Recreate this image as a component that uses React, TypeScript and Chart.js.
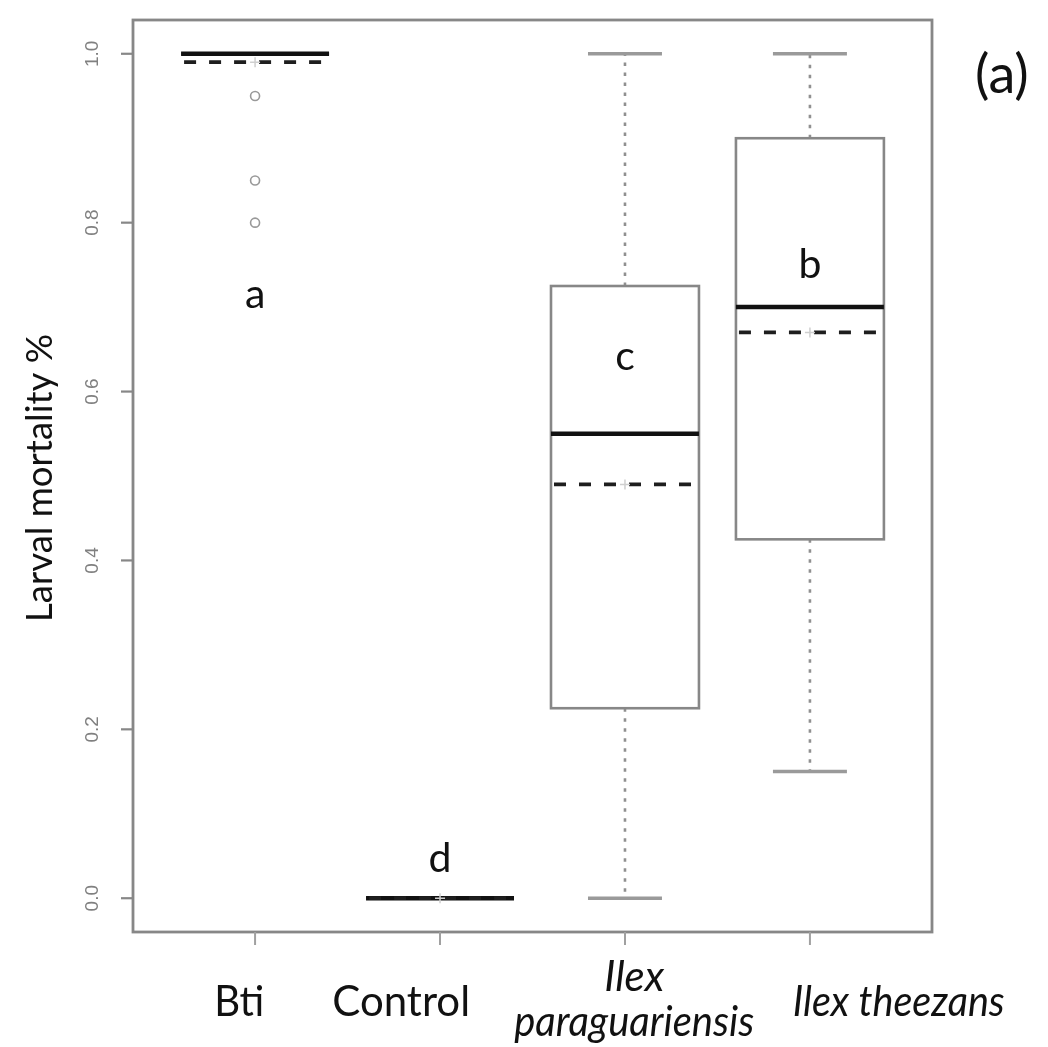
import React, { useEffect, useRef } from 'react';
import { Chart, registerables } from 'chart.js';

Chart.register(...registerables);

// ---- data ----
const categories = ['Bti', 'Control', 'Ilex paraguariensis', 'Ilex theezans'];
const whiskerLow = [1.0, 0.0, 0.0, 0.15];
const q1 = [1.0, 0.0, 0.225, 0.425];
const medians = [1.0, 0.0, 0.55, 0.70];
const q3 = [1.0, 0.0, 0.725, 0.90];
const whiskerHigh = [1.0, 0.0, 1.0, 1.0];
const means = [0.99, 0.0, 0.49, 0.67];
const outlierGroup = [1, 1, 1];
const outlierValues = [0.95, 0.85, 0.80];
const yTicks = [0, 0.2, 0.4, 0.6, 0.8, 1.0];
const yTickLabels = ['0.0', '0.2', '0.4', '0.6', '0.8', '1.0'];
const groupLetters = ['a', 'd', 'c', 'b'];
const letterY = [0.699, 0.031, 0.625, 0.735];
const xLabelLines = [['Bti'], ['Control'], ['Ilex', 'paraguariensis'], ['Ilex theezans']];
const xLabelItalic = [false, false, true, true];
const xLabelCenter = [0.914, 1.79, 3.05, 4.48];
const yTitle = 'Larval mortality %';
const panelTag = '(a)';

const GRAY = '#878787';

const boxPlugin = {
  id: 'rBoxplot',
  beforeDatasetsDraw(chart: any) {
    const { ctx, chartArea, scales } = chart;
    const x = scales.x;
    const y = scales.y;
    ctx.save();
    // frame
    ctx.strokeStyle = GRAY;
    ctx.lineWidth = 2.8;
    ctx.setLineDash([]);
    ctx.strokeRect(chartArea.left, chartArea.top, chartArea.right - chartArea.left, chartArea.bottom - chartArea.top);
    // y ticks + labels
    yTicks.forEach((v, i) => {
      const py = y.getPixelForValue(v);
      ctx.strokeStyle = GRAY;
      ctx.lineWidth = 2.2;
      ctx.beginPath();
      ctx.moveTo(chartArea.left - 12, py);
      ctx.lineTo(chartArea.left, py);
      ctx.stroke();
      ctx.save();
      ctx.translate(chartArea.left - 40, py);
      ctx.rotate(-Math.PI / 2);
      ctx.fillStyle = '#808080';
      ctx.font = '19px "Liberation Sans", Arial, sans-serif';
      ctx.textAlign = 'center';
      ctx.textBaseline = 'middle';
      ctx.fillText(yTickLabels[i], 0, 0);
      ctx.restore();
    });
    // x ticks
    categories.forEach((_, i) => {
      const px = x.getPixelForValue(i + 1);
      ctx.strokeStyle = '#a0a0a0';
      ctx.lineWidth = 2;
      ctx.beginPath();
      ctx.moveTo(px, chartArea.bottom);
      ctx.lineTo(px, chartArea.bottom + 13);
      ctx.stroke();
    });
    // boxes
    categories.forEach((_, i) => {
      const c = i + 1;
      const cx = x.getPixelForValue(c);
      const bl = x.getPixelForValue(c - 0.4);
      const br = x.getPixelForValue(c + 0.4);
      const cl = x.getPixelForValue(c - 0.2);
      const cr = x.getPixelForValue(c + 0.2);
      const pLo = y.getPixelForValue(whiskerLow[i]);
      const pQ1 = y.getPixelForValue(q1[i]);
      const pMed = y.getPixelForValue(medians[i]);
      const pQ3 = y.getPixelForValue(q3[i]);
      const pHi = y.getPixelForValue(whiskerHigh[i]);
      const pMean = y.getPixelForValue(means[i]);
      // whiskers
      ctx.strokeStyle = '#909090';
      ctx.lineWidth = 2.6;
      ctx.setLineDash([3.5, 6.5]);
      if (whiskerHigh[i] > q3[i]) {
        ctx.beginPath();
        ctx.moveTo(cx, pQ3);
        ctx.lineTo(cx, pHi);
        ctx.stroke();
      }
      if (whiskerLow[i] < q1[i]) {
        ctx.beginPath();
        ctx.moveTo(cx, pQ1);
        ctx.lineTo(cx, pLo);
        ctx.stroke();
      }
      ctx.setLineDash([]);
      // caps
      ctx.strokeStyle = '#9a9a9a';
      ctx.lineWidth = 3.5;
      ctx.beginPath();
      ctx.moveTo(cl, pHi);
      ctx.lineTo(cr, pHi);
      ctx.moveTo(cl, pLo);
      ctx.lineTo(cr, pLo);
      ctx.stroke();
      // box
      ctx.strokeStyle = GRAY;
      ctx.lineWidth = 2.6;
      ctx.strokeRect(bl, pQ3, br - bl, pQ1 - pQ3);
      // median
      ctx.strokeStyle = '#111';
      ctx.lineWidth = 4.5;
      ctx.beginPath();
      ctx.moveTo(bl, pMed);
      ctx.lineTo(br, pMed);
      ctx.stroke();
      // mean (dashed)
      ctx.strokeStyle = '#1e1e1e';
      ctx.lineWidth = 3.8;
      ctx.setLineDash([12, 13]);
      ctx.beginPath();
      ctx.moveTo(bl + 3, pMean);
      ctx.lineTo(br - 6, pMean);
      ctx.stroke();
      ctx.setLineDash([]);
    });
    ctx.restore();
  },
  afterDraw(chart: any) {
    const { ctx, chartArea, scales } = chart;
    const x = scales.x;
    const y = scales.y;
    ctx.save();
    ctx.fillStyle = '#111';
    // group letters
    ctx.font = '41px Lato, sans-serif';
    ctx.textAlign = 'center';
    ctx.textBaseline = 'alphabetic';
    groupLetters.forEach((l, i) => {
      ctx.fillText(l, x.getPixelForValue(i + 1), y.getPixelForValue(letterY[i]));
    });
    // x labels
    const b = chartArea.bottom;
    xLabelLines.forEach((lines, i) => {
      const px = x.getPixelForValue(xLabelCenter[i]);
      ctx.font = (xLabelItalic[i] ? 'italic ' : '') + '42px Lato, sans-serif';
      if (lines.length === 1) {
        const w = i === 0 ? 50 : i === 1 ? 140 : 212;
        ctx.fillText(lines[0], px, b + 84, w);
      } else {
        ctx.fillText(lines[0], px, b + 59, 60);
        ctx.fillText(lines[1], px, b + 104, 240);
      }
    });
    // y title
    ctx.save();
    ctx.translate(40, (chartArea.top + chartArea.bottom) / 2 + 2);
    ctx.rotate(-Math.PI / 2);
    ctx.font = '37px Lato, sans-serif';
    ctx.textBaseline = 'middle';
    ctx.fillText(yTitle, 0, 0, 288);
    ctx.restore();
    // panel tag
    ctx.textAlign = 'left';
    ctx.font = '54px Lato, sans-serif';
    ctx.fillText(panelTag, 975, 93, 68);
    ctx.restore();
  },
};

export default function App() {
  const ref = useRef<HTMLCanvasElement | null>(null);
  useEffect(() => {
    if (!ref.current) return;
    const chart = new Chart(ref.current, {
      type: 'scatter',
      data: {
        datasets: [
          {
            label: 'outliers',
            data: outlierValues.map((v, k) => ({ x: outlierGroup[k], y: v })),
            pointStyle: 'circle',
            pointRadius: 4.5,
            borderColor: '#999999',
            backgroundColor: 'rgba(0,0,0,0)',
            borderWidth: 1.6,
          },
          {
            label: 'means',
            data: means.map((m, i) => ({ x: i + 1, y: m })),
            pointStyle: 'cross',
            pointRadius: 5,
            borderColor: '#cfcfcf',
            borderWidth: 1.5,
          },
        ],
      },
      options: {
        animation: false,
        responsive: false,
        devicePixelRatio: 1,
        layout: { padding: { left: 133, top: 20, right: 116, bottom: 115 } },
        plugins: { legend: { display: false }, tooltip: { enabled: false } },
        scales: {
          x: { type: 'linear', min: 0.34, max: 4.66, display: false },
          y: { type: 'linear', min: -0.04, max: 1.04, display: false },
        },
      },
      plugins: [boxPlugin],
    });
    return () => chart.destroy();
  }, []);
  return (
    <div style={{ position: 'fixed', left: 0, top: 0, width: 1048, height: 1047, background: '#fff' }}>
      <canvas ref={ref} width={1048} height={1047} style={{ display: 'block', width: 1048, height: 1047 }} />
    </div>
  );
}
